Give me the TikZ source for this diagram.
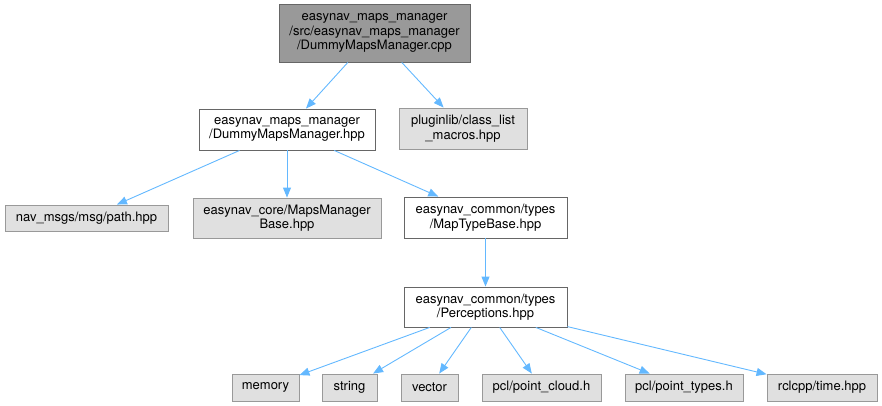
\documentclass[tikz,border=0pt]{standalone}
\usepackage{fontspec}
\setmainfont{TeX Gyre Heros}
\usepackage{tikz}
\usetikzlibrary{arrows.meta, positioning}

\definecolor{edgeblue}{HTML}{63B8FF}
\definecolor{srcgray}{HTML}{999999}
\definecolor{sysgray}{HTML}{E0E0E0}
\definecolor{bordergray}{HTML}{666666}

\tikzset{
  filebox/.style={draw=bordergray, fill=white, line width=0.9pt, inner sep=0pt,
    align=center, font=\fontsize{13}{14.5}\selectfont},
  srcbox/.style={filebox, fill=srcgray},
  sysbox/.style={filebox, draw=srcgray, fill=sysgray},
  incl/.style={->, draw=edgeblue, line width=0.9pt},
}

\begin{document}
\begin{tikzpicture}[>={Triangle[length=10pt, width=8pt]}, x=1pt, y=-1pt]
  \useasboundingbox (0,0) rectangle (882,406);

  % Fichier source
  \node[srcbox, minimum width=191, minimum height=58] (cpp) at (374.5,33)
    {easynav\_maps\_manager\\/src/easynav\_maps\_manager\\/DummyMapsManager.cpp};

  % Niveau 1
  \node[filebox, minimum width=176, minimum height=41] (dmm) at (287,129.5)
    {easynav\_maps\_manager\\/DummyMapsManager.hpp};
  \node[sysbox, minimum width=128, minimum height=41] (plugin) at (463,128.5)
    {pluginlib/class\_list\\\_macros.hpp};

  % Niveau 2
  \node[sysbox, minimum width=163, minimum height=26] (path) at (86.5,218)
    {nav\_msgs/msg/path.hpp};
  \node[sysbox, minimum width=188, minimum height=40] (mmbase) at (287,218)
    {easynav\_core/MapsManager\\Base.hpp};
  \node[filebox, minimum width=163, minimum height=41] (mtbase) at (485.5,217.5)
    {easynav\_common/types\\/MapTypeBase.hpp};

  % Niveau 3
  \node[filebox, minimum width=163, minimum height=40] (percep) at (485.5,307)
    {easynav\_common/types\\/Perceptions.hpp};

  % Niveau 4
  \node[sysbox, minimum width=67, minimum height=27] (memory) at (265.5,387.5) {memory};
  \node[sysbox, minimum width=55, minimum height=27] (string) at (349.5,387.5) {string};
  \node[sysbox, minimum width=57, minimum height=27] (vector) at (429.5,387.5) {vector};
  \node[sysbox, minimum width=119, minimum height=27] (cloud) at (541.5,387.5) {pcl/point\_cloud.h};
  \node[sysbox, minimum width=118, minimum height=27] (ptypes) at (684,387.5) {pcl/point\_types.h};
  \node[sysbox, minimum width=110, minimum height=27] (rtime) at (822,387.5) {rclcpp/time.hpp};

  % Inclusions
  \draw[incl] (cpp) -- (dmm);
  \draw[incl] (cpp) -- (plugin);
  \draw[incl] (dmm) -- (path);
  \draw[incl] (dmm) -- (mmbase);
  \draw[incl] (dmm) -- (mtbase);
  \draw[incl] (mtbase) -- (percep);
  \draw[incl] (percep) -- (memory);
  \draw[incl] (percep) -- (string);
  \draw[incl] (percep) -- (vector);
  \draw[incl] (percep) -- (cloud);
  \draw[incl] (percep) -- (ptypes);
  \draw[incl] (percep) -- (rtime);
\end{tikzpicture}
\end{document}
